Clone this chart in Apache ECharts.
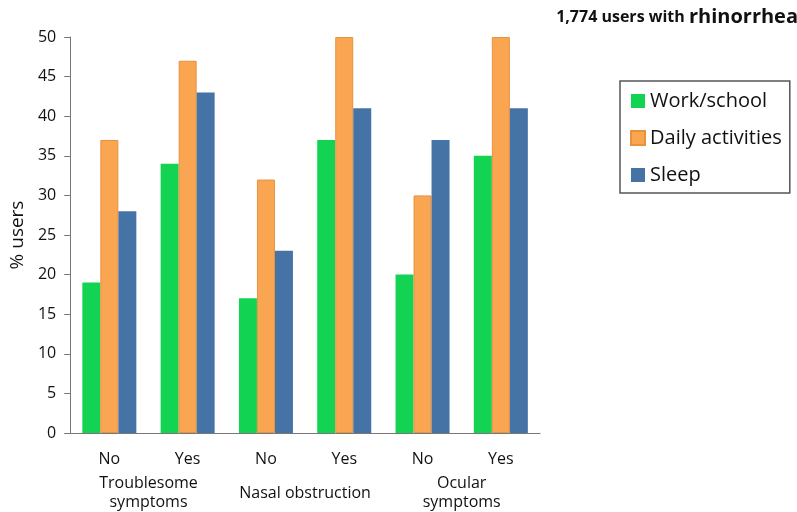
<!DOCTYPE html>
<html>
<head>
<meta charset="utf-8">
<script src="https://cdn.jsdelivr.net/npm/echarts@6/dist/echarts.min.js"></script>
<style>html,body{margin:0;padding:0;background:#fff;}#c{width:797px;height:512px;}</style>
</head>
<body>
<div id="c"></div>
<script>
const categories = ['No', 'Yes', 'No', 'Yes', 'No', 'Yes'];
const groups = ['Troublesome\nsymptoms', 'Nasal obstruction', 'Ocular\nsymptoms'];
const workSchool = [19, 34, 17, 37, 20, 35];
const dailyActivities = [37, 47, 32, 50, 30, 50];
const sleep = [28, 43, 23, 41, 37, 41];
const seriesNames = ['Work/school', 'Daily activities', 'Sleep'];

const chart = echarts.init(document.getElementById('c'));
const font = 'Open Sans, Liberation Sans, sans-serif';
chart.setOption({
  animation: false,
  textStyle: { fontFamily: font },
  title: {
    text: '{a|1,774 users with }{b|rhinorrhea}',
    right: -6, top: 2,
    textStyle: {
      rich: {
        a: { fontSize: 16, fontWeight: 'bold', color: '#111', fontFamily: font },
        b: { fontSize: 20, fontWeight: 'bold', color: '#111', fontFamily: font }
      }
    }
  },
  legend: {
    orient: 'vertical',
    left: 620, top: 81,
    padding: [10, 8, 8, 10],
    itemGap: 17,
    itemWidth: 14, itemHeight: 14,
    borderColor: '#555', borderWidth: 1.5,
    icon: 'rect',
    textStyle: { fontSize: 20, color: '#111', fontFamily: font },
    data: seriesNames
  },
  grid: { left: 65, right: 257, top: 37, bottom: 74 },
  xAxis: [
    {
      type: 'category', data: categories, position: 'bottom',
      axisLine: { lineStyle: { color: '#777' } },
      axisTick: { length: 6, lineStyle: { color: '#777' } },
      axisLabel: { fontSize: 16, color: '#111', margin: 18, interval: 0 }
    },
    {
      type: 'category', data: groups, position: 'bottom', offset: 52,
      axisLine: { show: false }, axisTick: { show: false },
      axisLabel: { fontSize: 16, color: '#111', margin: 8, lineHeight: 19, verticalAlign: 'middle', interval: 0 }
    }
  ],
  yAxis: {
    type: 'value', min: 0, max: 50, interval: 5,
    name: '% users', nameLocation: 'middle', nameGap: 43, nameRotate: 90,
    nameTextStyle: { fontSize: 19, color: '#111' },
    axisLine: { show: true, lineStyle: { color: '#777' } },
    axisTick: { show: true, length: 6, lineStyle: { color: '#777' } },
    splitLine: { show: false },
    axisLabel: { fontSize: 16, color: '#111', margin: 14 }
  },
  series: [
    { name: seriesNames[0], type: 'bar', data: workSchool, barWidth: 18, barGap: '0%',
      itemStyle: { color: '#12d352' } },
    { name: seriesNames[1], type: 'bar', data: dailyActivities, barWidth: 18, barGap: '0%',
      itemStyle: { color: '#f9a552', borderColor: '#e8923c', borderWidth: 1 } },
    { name: seriesNames[2], type: 'bar', data: sleep, barWidth: 18, barGap: '0%',
      itemStyle: { color: '#4673a6' } }
  ]
});
</script>
</body>
</html>
